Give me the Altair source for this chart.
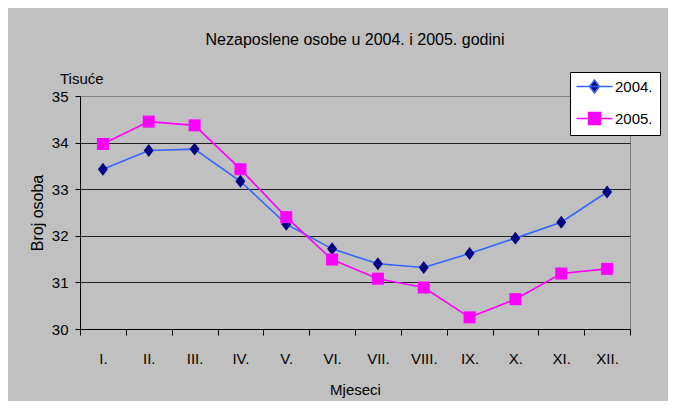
import altair as alt
import pandas as pd

months = ["I.", "II.", "III.", "IV.", "V.", "VI.", "VII.", "VIII.", "IX.", "X.", "XI.", "XII."]
y2004 = [33.43, 33.83, 33.86, 33.17, 32.25, 31.72, 31.40, 31.32, 31.62, 31.95, 32.29, 32.94]
y2005 = [33.97, 34.45, 34.37, 33.43, 32.40, 31.49, 31.08, 30.89, 30.25, 30.64, 31.19, 31.29]
series_names = ["2004.", "2005."]
title_text = "Nezaposlene osobe u 2004. i 2005. godini"
unit_text = "Tisuće"
y_title = "Broj osoba"
x_title = "Mjeseci"

rows = []
for m, v in zip(months, y2004):
    rows.append({"mjesec": m, "vrijednost": v, "serija": series_names[0]})
for m, v in zip(months, y2005):
    rows.append({"mjesec": m, "vrijednost": v, "serija": series_names[1]})
df = pd.DataFrame(rows)

FONT = "Liberation Sans"
FS = 15
line_colors = ["#3366ff", "#ff00ff"]
marker_colors = ["#000080", "#ff00ff"]
diamond = "M0,-1.08L0.83,0L0,1.08L-0.83,0Z"
marker_shapes = [diamond, "square"]
legend_shapes = [
    "M-3,0L3,0M0,-1.08L0.83,0L0,1.08L-0.83,0Z",
    "M-3,0L3,0M-1,-1L1,-1L1,1L-1,1Z",
]

x_enc = alt.X(
    "mjesec:N",
    sort=months,
    scale=alt.Scale(type="band", paddingInner=0, paddingOuter=0),
    axis=alt.Axis(
        title=x_title,
        labelAngle=0,
        tickBand="extent",
        tickSize=6,
        tickColor="#000000",
        domainColor="#000000",
        labelFontSize=FS,
        labelPadding=16,
        labelColor="#000000",
        labelFont=FONT,
        titleFont=FONT,
        titleFontSize=FS,
        titleFontWeight="normal",
        titleColor="#000000",
        titlePadding=16,
        grid=False,
    ),
)
y_enc = alt.Y(
    "vrijednost:Q",
    scale=alt.Scale(domain=[30, 35], nice=False, zero=False),
    axis=alt.Axis(
        title=y_title,
        values=[30, 31, 32, 33, 34, 35],
        tickSize=5,
        tickColor="#000000",
        domainColor="#000000",
        labelFontSize=FS,
        labelPadding=7,
        labelColor="#000000",
        labelFont=FONT,
        titleFont=FONT,
        titleFontSize=16,
        titleFontWeight="normal",
        titleColor="#000000",
        titlePadding=6,
        grid=True,
        gridColor={"condition": {"test": "datum.value === 35", "value": "#808080"}, "value": "#202020"},
        gridWidth=1,
    ),
)

base = alt.Chart(df)

lines = base.mark_line(strokeWidth=1.6).encode(
    x=x_enc,
    y=y_enc,
    color=alt.Color("serija:N", scale=alt.Scale(domain=series_names, range=line_colors), legend=None),
)

markers = base.mark_point(filled=True, size=144, opacity=1).encode(
    x=x_enc,
    y=y_enc,
    fill=alt.Fill("serija:N", scale=alt.Scale(domain=series_names, range=marker_colors), legend=None),
    shape=alt.Shape("serija:N", scale=alt.Scale(domain=series_names, range=marker_shapes), legend=None),
)

leg = alt.Legend(
    title=None,
    orient="none",
    legendX=490,
    legendY=-24,
    fillColor="#ffffff",
    strokeColor="#000000",
    padding=7,
    labelFont=FONT,
    labelFontSize=FS,
    labelColor="#000000",
    symbolSize=144,
    symbolStrokeWidth=1.5,
    symbolOpacity=1,
    symbolOffset=10,
    labelOffset=13,
    rowPadding=13,
)

legend_layer = base.mark_point(filled=True, size=144, opacity=0).encode(
    x=x_enc,
    y=y_enc,
    fill=alt.Fill("serija:N", scale=alt.Scale(domain=series_names, range=marker_colors), legend=leg),
    stroke=alt.Stroke("serija:N", scale=alt.Scale(domain=series_names, range=line_colors), legend=leg),
    shape=alt.Shape("serija:N", scale=alt.Scale(domain=series_names, range=legend_shapes), legend=leg),
)

unit_label = alt.Chart(pd.DataFrame({"t": [unit_text]})).mark_text(
    align="left", baseline="alphabetic", font=FONT, fontSize=FS, color="#000000"
).encode(text="t:N", x=alt.value(-20), y=alt.value(-12))

chart = alt.layer(lines, markers, legend_layer, unit_label).resolve_scale(
    color="independent", fill="independent", shape="independent", stroke="independent"
).properties(
    width=550,
    height=233,
    background="#c0c0c0",
    padding={"left": 72, "top": 88, "right": 38, "bottom": 72},
    autosize=alt.AutoSizeParams(type="none"),
    title=alt.TitleParams(
        text=title_text,
        font=FONT,
        fontSize=16,
        fontWeight="normal",
        color="#000000",
        anchor="middle",
        frame="group",
        offset=24,
    ),
).configure_view(
    stroke="#808080", strokeWidth=1, fill="#c0c0c0"
)

chart.save("out.html", embed_options={"renderer": "svg", "actions": False})
